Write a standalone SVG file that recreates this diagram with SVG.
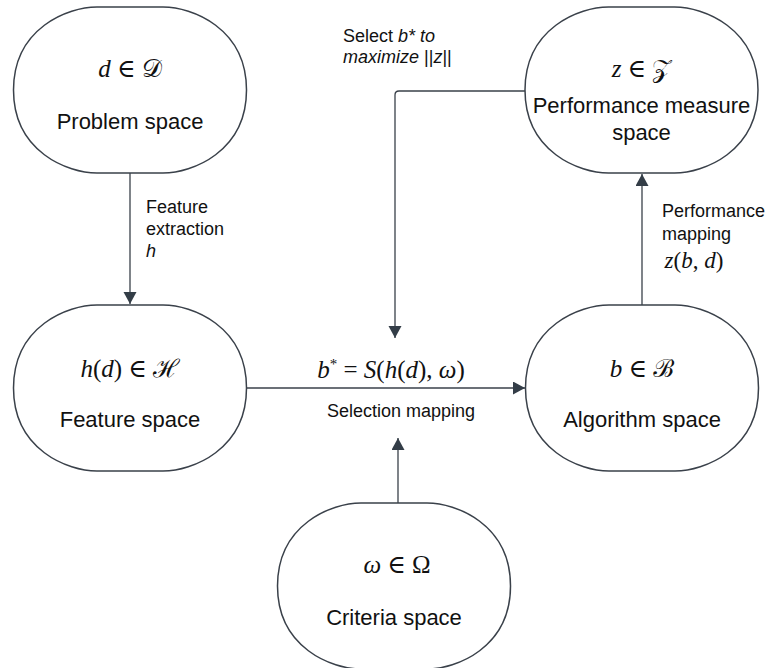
<svg xmlns="http://www.w3.org/2000/svg" width="768" height="668" viewBox="0 0 768 668">
  <style>
    .node { fill: #ffffff; stroke: #3a414a; stroke-width: 1.5; }
    .edge { fill: none; stroke: #3a414a; stroke-width: 1.3; }
    .title { font-family: "Liberation Sans", Arial, sans-serif; font-size: 22px; fill: #111111; text-anchor: middle; }
    .label { font-family: "Liberation Sans", Arial, sans-serif; font-size: 18px; fill: #111111; }
    .math { font-family: "Liberation Serif", "DejaVu Serif", serif; font-size: 25px; fill: #111111; text-anchor: middle; }
    .v { font-style: italic; }
    .cal { font-family: "DejaVu Serif", "Noto Sans", serif; }
    .it { font-style: italic; }
  </style>
  <defs>
    <!-- rounded "space" blob, centred on the origin -->
    <path id="blob" d="M -33,-83 H 33 C 62,-83 116.5,-62 116.5,0 C 116.5,62 62,83 33,83 H -33 C -62,83 -116.5,62 -116.5,0 C -116.5,-62 -62,-83 -33,-83 Z"/>
    <marker id="arrow" markerUnits="userSpaceOnUse" markerWidth="13" markerHeight="14" refX="12" refY="6.5" orient="auto">
      <path d="M0,0 L12,6.5 L0,13 Z" fill="#333d47"/>
    </marker>
  </defs>

  <!-- connectors -->
  <g id="connectors">
    <line class="edge" x1="130" y1="173" x2="130" y2="304" marker-end="url(#arrow)"/>
    <line class="edge" x1="246" y1="388" x2="525" y2="388" marker-end="url(#arrow)"/>
    <line class="edge" x1="642" y1="305" x2="642" y2="174" marker-end="url(#arrow)"/>
    <line class="edge" x1="398" y1="503" x2="398" y2="438" marker-end="url(#arrow)"/>
    <path class="edge" d="M 525,91 H 399 Q 395,91 395,95 V 338" marker-end="url(#arrow)"/>
  </g>

  <!-- edge labels -->
  <g id="edge-labels">
    <text class="label" x="146" y="213">Feature</text>
    <text class="label" x="146" y="235">extraction</text>
    <text class="label it" x="146" y="257">h</text>

    <text class="label" x="662" y="217">Performance</text>
    <text class="label" x="662" y="240">mapping</text>
    <text class="math" x="694" y="268" style="font-size:23px"><tspan class="v">z</tspan>(<tspan class="v">b</tspan>, <tspan class="v">d</tspan>)</text>

    <text class="label" x="343" y="42">Select <tspan class="it">b* to</tspan></text>
    <text class="label" x="343" y="63"><tspan class="it">maximize</tspan> ||<tspan class="it">z</tspan>||</text>

    <text class="math" x="391" y="378"><tspan class="v">b</tspan><tspan dy="-9" style="font-size:15px">*</tspan><tspan dy="9"> = </tspan><tspan class="v">S</tspan>(<tspan class="v">h</tspan>(<tspan class="v">d</tspan>), <tspan class="v">ω</tspan>)</text>
    <text class="label" x="401" y="417" text-anchor="middle">Selection mapping</text>
  </g>

  <g id="problem-space" transform="translate(130,90)">
    <use href="#blob" class="node"/>
    <text class="math" x="0" y="-13"><tspan class="v">d</tspan> ∈ <tspan class="cal">𝒟</tspan></text>
    <text class="title" x="0" y="39">Problem space</text>
  </g>

  <g id="performance-space" transform="translate(641.5,90)">
    <use href="#blob" class="node"/>
    <text class="math" x="0" y="-13"><tspan class="v">z</tspan> ∈ <tspan class="cal">𝒵</tspan></text>
    <text class="title" x="0" y="23">Performance measure</text>
    <text class="title" x="0" y="50">space</text>
  </g>

  <g id="feature-space" transform="translate(130,388)">
    <use href="#blob" class="node"/>
    <text class="math" x="0" y="-11"><tspan class="v">h</tspan>(<tspan class="v">d</tspan>) ∈ <tspan class="cal">ℋ</tspan></text>
    <text class="title" x="0" y="39">Feature space</text>
  </g>

  <g id="algorithm-space" transform="translate(642,388)">
    <use href="#blob" class="node"/>
    <text class="math" x="0" y="-11"><tspan class="v">b</tspan> ∈ <tspan class="cal">ℬ</tspan></text>
    <text class="title" x="0" y="39">Algorithm space</text>
  </g>

  <g id="criteria-space" transform="translate(394,586)">
    <use href="#blob" class="node"/>
    <text class="math" x="3" y="-13"><tspan class="v">ω</tspan> ∈ Ω</text>
    <text class="title" x="0" y="39">Criteria space</text>
  </g>
</svg>
